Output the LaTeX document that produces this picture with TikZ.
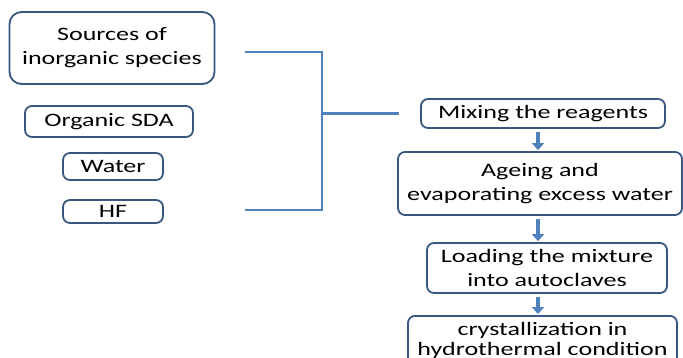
\documentclass[tikz,border=0pt]{standalone}
\usepackage{fontspec}
\setmainfont{Carlito}[FakeStretch=1.37]
\usetikzlibrary{calc,positioning,arrows.meta}
\definecolor{boxline}{RGB}{56,88,130}
\definecolor{linkblue}{RGB}{79,129,189}
\tikzset{
    punktbox/.style={
        rectangle,
        rounded corners=7pt,
        draw=boxline, line width=1.8pt,
        fill=white,
        align=center,
        inner sep=0pt,
        font=\fontsize{19}{24}\selectfont
    },
    bracket/.style={draw=linkblue, line width=2.6pt},
    blockarrow/.style={draw=linkblue, line width=4.5pt,
        -{Triangle[width=12pt,length=7pt]}, shorten <=3pt, shorten >=1pt}
}
\begin{document}
\begin{tikzpicture}[x=1pt,y=-1pt]
                \clip (0,0) rectangle (683,357);
                \fill[white] (0,0) rectangle (683,357);

                % -- Inputs -- %
                \node[punktbox, minimum width=205pt, minimum height=72pt, rounded corners=12pt]
                    (sources) at (112,48) {Sources of\\inorganic species};
                \node[punktbox, minimum width=168pt, minimum height=31pt] (organic) at (109,121.5) {Organic SDA};
                \node[punktbox, minimum width=100pt, minimum height=27pt] (water) at (113,166.5) {Water};
                \node[punktbox, minimum width=100pt, minimum height=23pt] (hf) at (113,211.5) {HF};

                % -- Steps -- %
                \node[punktbox, minimum width=244pt, minimum height=29pt] (mix) at (543,113.5) {Mixing the reagents};
                \node[punktbox, minimum width=284pt, minimum height=63pt] (ageing) at (540,183.5) {Ageing and\\evaporating excess water};
                \node[punktbox, minimum width=240pt, minimum height=50pt] (loading) at (547,268) {Loading the mixture\\into autoclaves};
                \node[punktbox, minimum width=269pt, minimum height=50pt, anchor=north,
                    font=\fontsize{19}{20}\selectfont] (crystal) at (542.5,315) {crystallization in\\hydrothermal condition};

                % -- Post processing -- %

                \coordinate (btop) at (245,52);
                \coordinate (bbot) at (245,210);
                \coordinate (bmid) at (322,113.5);
                \coordinate (bend) at ($(mix.west)+(-21,0)$);
                \coordinate (axis) at (538,0);
                \draw[bracket] (btop) -| (bmid) |- (bbot);
                \draw[bracket] (bmid) -- (bend);

                \draw[blockarrow] (mix.south -| axis) -- (ageing.north -| axis);
                \draw[blockarrow] (ageing.south -| axis) -- (loading.north -| axis);
                \draw[blockarrow] (loading.south -| axis) -- (crystal.north -| axis);
            \end{tikzpicture}
\end{document}
